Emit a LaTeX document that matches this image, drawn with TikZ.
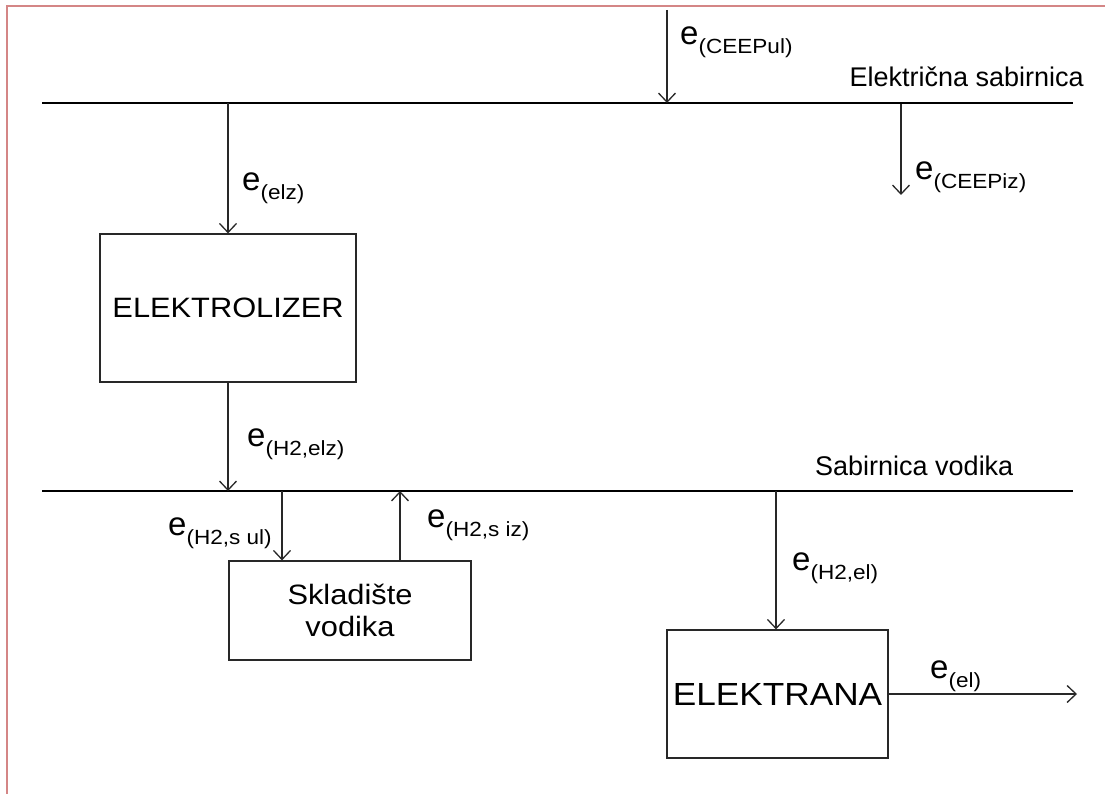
\documentclass[tikz,border=0pt]{standalone}
\usepackage{fontspec}
\setmainfont{Liberation Sans}
\newfontfamily\siroki[FakeStretch=1.1]{Liberation Sans}
\usetikzlibrary{arrows.meta}
\definecolor{okvir}{RGB}{212,134,134}
\definecolor{linija}{RGB}{40,40,40}
\tikzset{
  blok/.style={draw=linija, line width=1.2pt, inner sep=0pt, align=center},
  tok/.style={draw=linija, line width=1.3pt, -{Straight Barb[length=9pt,width=17pt,line width=1.3pt]}},
  sabirnica/.style={line width=2.6pt},
  oznaka/.style={anchor=base west, inner sep=0pt},
}
\newcommand{\tokoznaka}[1]{{\fontsize{33}{33}\selectfont e}{\siroki\fontsize{20.5}{20.5}\selectfont\raisebox{-9pt}{(#1)}}}
\begin{document}
\begin{tikzpicture}[x=1pt, y=-1pt]
  \useasboundingbox (0,0) rectangle (1105,794);
  % okvir
  \draw[okvir, line width=2.5pt] (7,794) -- (7,6) -- (1105,6);
  % elektricna sabirnica
  \coordinate (es-l) at (42,103);
  \coordinate (es-d) at (1073,103);
  \draw[sabirnica] (es-l) -- (es-d);
  \node[anchor=base east, inner sep=0pt, font=\fontsize{27}{27}\selectfont] (es-naziv) at (1084,87) {Električna sabirnica};
  % sabirnica vodika
  \coordinate (vs-l) at (42,491);
  \coordinate (vs-d) at (1073,491);
  \draw[sabirnica] (vs-l) -- (vs-d);
  \node[oznaka, font=\fontsize{27}{27}\selectfont] (vs-naziv) at (815,475) {Sabirnica vodika};
  % blokovi
  \node[blok, minimum width=256pt, minimum height=148pt, font=\siroki\fontsize{28}{28}\selectfont] (elz) at (228,308) {ELEKTROLIZER};
  \node[blok, minimum width=242pt, minimum height=99pt, font=\siroki\fontsize{28}{32}\selectfont] (skl) at (350,610.5) {Skladište\\vodika};
  \node[blok, minimum width=221pt, minimum height=128pt, font=\siroki\fontsize{32}{32}\selectfont] (ele) at (777.5,694) {ELEKTRANA};
  % tokovi energije
  \coordinate (ul-vrh) at (667,10);
  \coordinate (es-ul) at (667,103);
  \coordinate (es-iz) at (901,104);
  \coordinate (iz-kraj) at (901,195);
  \coordinate (es-elz) at (228,103);
  \coordinate (vs-elz) at (228,491);
  \coordinate (vs-ul) at (282,491);
  \coordinate (vs-iz) at (400,491);
  \coordinate (vs-el) at (776,491);
  \coordinate (izlaz) at (1077,694);
  \draw[tok] (ul-vrh) -- (es-ul);
  \draw[tok] (es-iz) -- (iz-kraj);
  \draw[tok] (es-elz) -- (elz.north);
  \draw[tok] (elz.south) -- (vs-elz);
  \draw[tok] (vs-ul) -- (vs-ul |- skl.north);
  \draw[tok] (vs-iz |- skl.north) -- (vs-iz);
  \draw[tok] (vs-el) -- (vs-el |- ele.north);
  \draw[tok] (ele.east) -- (izlaz);
  % oznake
  \node[oznaka] (o-ul) at (680,45) {\tokoznaka{CEEPul}};
  \node[oznaka] (o-iz) at (915,180) {\tokoznaka{CEEPiz}};
  \node[oznaka] (o-elz) at (242,191) {\tokoznaka{elz}};
  \node[oznaka] (o-h2elz) at (247,446) {\tokoznaka{H2,elz}};
  \node[oznaka] (o-sul) at (168,535) {\tokoznaka{H2,s ul}};
  \node[oznaka] (o-siz) at (427,527) {\tokoznaka{H2,s iz}};
  \node[oznaka] (o-h2el) at (792,570) {\tokoznaka{H2,el}};
  \node[oznaka] (o-el) at (930,678) {\tokoznaka{el}};
\end{tikzpicture}
\end{document}
